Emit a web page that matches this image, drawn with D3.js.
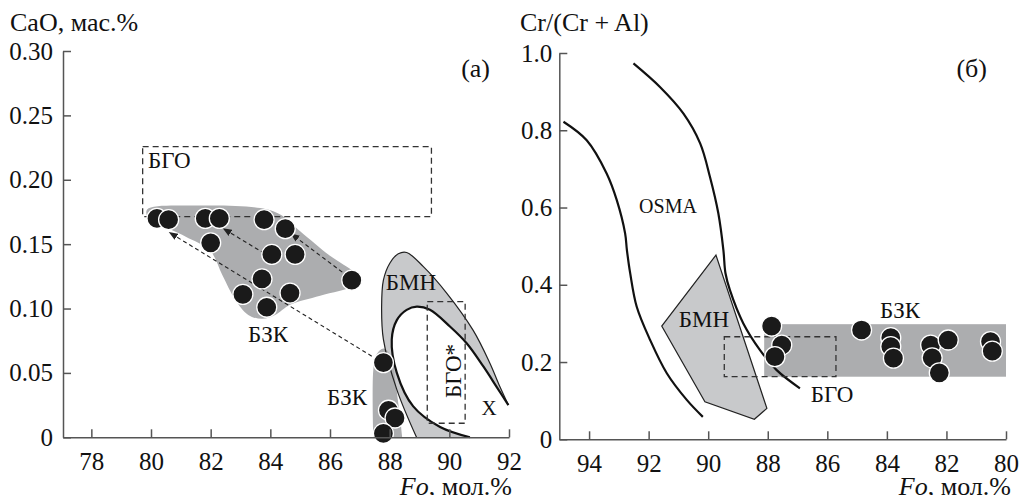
<!DOCTYPE html>
<html>
<head>
<meta charset="utf-8">
<script src="https://cdn.jsdelivr.net/npm/d3@7"></script>
<style>
  body { margin: 0; background: #fff; }
</style>
</head>
<body>
<div id="chart"></div>
<script>
// ---- panel (a): CaO vs Fo ----
var caoFo  = [80.2, 80.59, 81.82, 82.29, 83.79, 84.5, 82.0, 84.05, 84.83, 83.72, 86.73, 83.08, 84.66, 83.88, 87.79, 87.96, 88.18, 87.79];
var caoVal = [0.170, 0.169, 0.170, 0.170, 0.169, 0.162, 0.151, 0.142, 0.142, 0.123, 0.122, 0.111, 0.112, 0.101, 0.058, 0.021, 0.015, 0.003];

// БЗК field (upper)
var bzkUpper = [[79.87,0.177],[81.65,0.180],[83.66,0.178],[84.33,0.173],[85.0,0.160],[86.0,0.141],[86.84,0.128],[87.08,0.122],
  [86.84,0.1175],[85.67,0.110],[84.66,0.103],[84.16,0.095],[83.73,0.092],[83.26,0.095],[82.82,0.107],[82.39,0.126],
  [81.99,0.1446],[81.15,0.156],[80.31,0.165],[79.91,0.170]];
// БЗК band (lower, near Fo 88)
var bzkLower = [[87.45,0],[87.45,0.052],[87.55,0.064],[87.8,0.069],[88.05,0.063],[88.2,0.042],[88.35,0.015],[88.42,0]];
// БМН field: outer and inner boundaries
var bmnOuter = [[88.9,0],[88.24,0.037],[87.79,0.076],[87.73,0.101],[87.79,0.122],[88.0,0.135],[88.29,0.1425],[88.57,0.1435],
  [89.13,0.1325],[89.91,0.112],[90.8,0.083],[91.36,0.0575],[91.7,0.039],[91.98,0.025]];
var bmnInner = [[91.98,0.025],[91.59,0.039],[91.14,0.055],[90.58,0.073],[90.02,0.086],[89.35,0.099],[88.91,0.1015],[88.57,0.099],
  [88.24,0.091],[88.07,0.076],[88.24,0.05],[88.79,0.024],[89.69,0.008],[90.69,0]];
var bgoA     = {x0: 79.72, x1: 89.4, y0: 0.1714, y1: 0.2258};
var bgoStarA = {x0: 89.26, x1: 90.53, y0: 0.0109, y1: 0.1054};
// trend arrows [from, to]
var arrowsA = [[[87.4,0.063],[80.62,0.159]], [[84.0,0.140],[82.43,0.162]], [[86.6,0.125],[84.7,0.158]]];

// ---- panel (б): Cr/(Cr+Al) vs Fo ----
var crFo  = [87.87, 87.53, 87.76, 84.85, 83.87, 83.87, 83.78, 82.53, 81.94, 82.48, 82.24, 80.52, 80.46];
var crVal = [0.293, 0.244, 0.214, 0.283, 0.263, 0.240, 0.210, 0.244, 0.257, 0.211, 0.172, 0.253, 0.228];
var osmaLeft  = [[94.86,0.822],[94.08,0.774],[93.41,0.688],[93.07,0.619],[92.79,0.533],[92.73,0.49],[92.62,0.43],[92.4,0.343],
  [91.95,0.257],[91.39,0.171],[90.72,0.102],[90.18,0.058]];
var osmaRight = [[92.51,0.973],[91.62,0.912],[90.83,0.843],[90.27,0.766],[89.94,0.679],[89.66,0.585],[89.49,0.49],[89.42,0.43],
  [89.27,0.386],[88.82,0.30],[88.26,0.231],[87.70,0.179],[86.92,0.132]];
var bmnB = [[89.74,0.477],[91.56,0.293],[90.11,0.097],[88.45,0.052],[88.03,0.080]];
var bzkB = {x0: 88.12, x1: 80.0, y0: 0.162, y1: 0.298};
var bgoB = {x0: 89.46, x1: 85.71, y0: 0.162, y1: 0.2655};

var width = 1019, height = 495;
var serif = "'Liberation Serif', 'Times New Roman', serif";
var svg = d3.select("#chart").append("svg").attr("width", width).attr("height", height);

var defs = svg.append("defs");
defs.append("marker").attr("id", "head").attr("viewBox", "0 0 10 10")
  .attr("refX", 9).attr("refY", 5).attr("markerWidth", 9).attr("markerHeight", 9)
  .attr("markerUnits", "userSpaceOnUse").attr("orient", "auto")
  .append("path").attr("d", "M0,1 L10,5 L0,9 Z").attr("fill", "#222");

var axisColor = "#555";
var darkFill = "#acadaf", lightFill = "#c8c9cb";

function styleAxis(g) {
  g.selectAll("path.domain").attr("stroke", axisColor).attr("stroke-width", 1.5);
  g.selectAll(".tick line").attr("stroke", axisColor).attr("stroke-width", 1.5);
  g.selectAll(".tick text").attr("font-size", 25).attr("fill", "#111");
}

// ---------- panel (a) ----------
var xA = d3.scaleLinear().domain([77.05, 92]).range([63, 509]);
var yA = d3.scaleLinear().domain([0, 0.30]).range([437.3, 51]);
var closedA = d3.line().x(function(d) { return xA(d[0]); }).y(function(d) { return yA(d[1]); }).curve(d3.curveCatmullRomClosed.alpha(0.5));
var smoothA = d3.line().x(function(d) { return xA(d[0]); }).y(function(d) { return yA(d[1]); }).curve(d3.curveCatmullRom.alpha(0.5));

var gA = svg.append("g");

gA.append("path").attr("d", closedA(bzkUpper)).attr("fill", darkFill);

// БМН ring = outer boundary + inner boundary
gA.append("path")
  .attr("d", smoothA(bmnOuter) + "L" + smoothA(bmnInner).slice(1) + "Z")
  .attr("fill", lightFill);

gA.append("path").attr("d", smoothA(bzkLower) + "Z").attr("fill", darkFill);

gA.append("path").attr("d", smoothA(bmnOuter)).attr("fill", "none").attr("stroke", "#222").attr("stroke-width", 1.2);
gA.append("path").attr("d", smoothA(bmnInner)).attr("fill", "none").attr("stroke", "#111").attr("stroke-width", 2.2);

function dashedRect(g, xs, ys, r) {
  g.append("rect")
    .attr("x", Math.min(xs(r.x0), xs(r.x1))).attr("y", ys(r.y1))
    .attr("width", Math.abs(xs(r.x1) - xs(r.x0))).attr("height", ys(r.y0) - ys(r.y1))
    .attr("fill", "none").attr("stroke", "#333").attr("stroke-width", 1.3)
    .attr("stroke-dasharray", "6,4");
}
dashedRect(gA, xA, yA, bgoA);
dashedRect(gA, xA, yA, bgoStarA);

arrowsA.forEach(function(a) {
  gA.append("line")
    .attr("x1", xA(a[0][0])).attr("y1", yA(a[0][1]))
    .attr("x2", xA(a[1][0])).attr("y2", yA(a[1][1]))
    .attr("stroke", "#222").attr("stroke-width", 1.1).attr("stroke-dasharray", "4,3")
    .attr("marker-end", "url(#head)");
});

gA.selectAll("circle").data(caoFo).enter().append("circle")
  .attr("cx", function(d) { return xA(d); })
  .attr("cy", function(d, i) { return yA(caoVal[i]); })
  .attr("r", 10).attr("fill", "#1a1a1a").attr("stroke", "#fff").attr("stroke-width", 1.3);

var axA = gA.append("g").attr("transform", "translate(0,437.3)")
  .call(d3.axisBottom(xA).tickValues(d3.range(78, 93, 2)).tickSizeInner(-8).tickSizeOuter(0).tickPadding(15));
styleAxis(axA);
var ayA = gA.append("g").attr("transform", "translate(63,0)")
  .call(d3.axisLeft(yA).tickValues([0, 0.05, 0.10, 0.15, 0.20, 0.25, 0.30])
    .tickFormat(function(d) { return d === 0 ? "0" : d3.format(".2f")(d); })
    .tickSizeInner(-8).tickSizeOuter(0).tickPadding(10));
styleAxis(ayA);

function label(g, x, y, t, size, anchor) {
  return g.append("text").attr("x", x).attr("y", y).attr("font-size", size)
    .attr("text-anchor", anchor || "middle").text(t);
}
label(gA, 148, 168, "БГО", 23, "start");
label(gA, 268, 341.5, "БЗК", 23);
label(gA, 347, 405, "БЗК", 23);
label(gA, 411, 290, "БМН", 23);
label(gA, 489, 415, "X", 21);
gA.append("text").attr("transform", "translate(461,371) rotate(-90)")
  .attr("font-size", 23).attr("text-anchor", "middle").text("БГО*");
label(gA, 490, 77, "(а)", 26, "end");
label(gA, 10, 31, "CaO, мас.%", 26, "start");
var tA = gA.append("text").attr("x", 512).attr("y", 495).attr("font-size", 26).attr("text-anchor", "end");
tA.append("tspan").attr("font-style", "italic").text("Fo");
tA.append("tspan").text(", мол.%");

// ---------- panel (б) ----------
var xB = d3.scaleLinear().domain([95, 80]).range([559.3, 1006]);
var yB = d3.scaleLinear().domain([0, 1]).range([439.3, 53]);
var closedB = d3.line().x(function(d) { return xB(d[0]); }).y(function(d) { return yB(d[1]); }).curve(d3.curveLinearClosed);
var smoothB = d3.line().x(function(d) { return xB(d[0]); }).y(function(d) { return yB(d[1]); }).curve(d3.curveCatmullRom.alpha(0.5));

var gB = svg.append("g");

gB.append("rect")
  .attr("x", xB(bzkB.x0)).attr("y", yB(bzkB.y1))
  .attr("width", xB(bzkB.x1) - xB(bzkB.x0)).attr("height", yB(bzkB.y0) - yB(bzkB.y1))
  .attr("fill", darkFill);

gB.append("path").attr("d", closedB(bmnB))
  .attr("fill", lightFill).attr("stroke", "#222").attr("stroke-width", 1.2);

gB.append("path").attr("d", smoothB(osmaLeft)).attr("fill", "none").attr("stroke", "#111").attr("stroke-width", 2.2);
gB.append("path").attr("d", smoothB(osmaRight)).attr("fill", "none").attr("stroke", "#111").attr("stroke-width", 2.2);

dashedRect(gB, xB, yB, bgoB);

gB.selectAll("circle").data(crFo).enter().append("circle")
  .attr("cx", function(d) { return xB(d); })
  .attr("cy", function(d, i) { return yB(crVal[i]); })
  .attr("r", 10).attr("fill", "#1a1a1a").attr("stroke", "#fff").attr("stroke-width", 1.3);

var axB = gB.append("g").attr("transform", "translate(0,439.3)")
  .call(d3.axisBottom(xB).tickValues(d3.range(94, 79, -2)).tickSizeInner(-8).tickSizeOuter(0).tickPadding(15));
styleAxis(axB);
var ayB = gB.append("g").attr("transform", "translate(559.3,0)")
  .call(d3.axisLeft(yB).tickValues([0, 0.2, 0.4, 0.6, 0.8, 1.0])
    .tickFormat(function(d) { return d === 0 ? "0" : d3.format(".1f")(d); })
    .tickSizeInner(-8).tickSizeOuter(0).tickPadding(7));
styleAxis(ayB);

label(gB, 668, 213, "OSMA", 20);
label(gB, 704, 327, "БМН", 23);
label(gB, 900, 318, "БЗК", 23);
label(gB, 832, 401.5, "БГО", 23);
label(gB, 987, 77, "(б)", 26, "end");
label(gB, 520, 31, "Cr/(Cr + Al)", 26, "start");
var tB = gB.append("text").attr("x", 1011).attr("y", 495).attr("font-size", 26).attr("text-anchor", "end");
tB.append("tspan").attr("font-style", "italic").text("Fo");
tB.append("tspan").text(", мол.%");

// all text in a Times-like serif
svg.selectAll("text").style("font-family", serif).style("fill", "#111");
</script>
</body>
</html>
